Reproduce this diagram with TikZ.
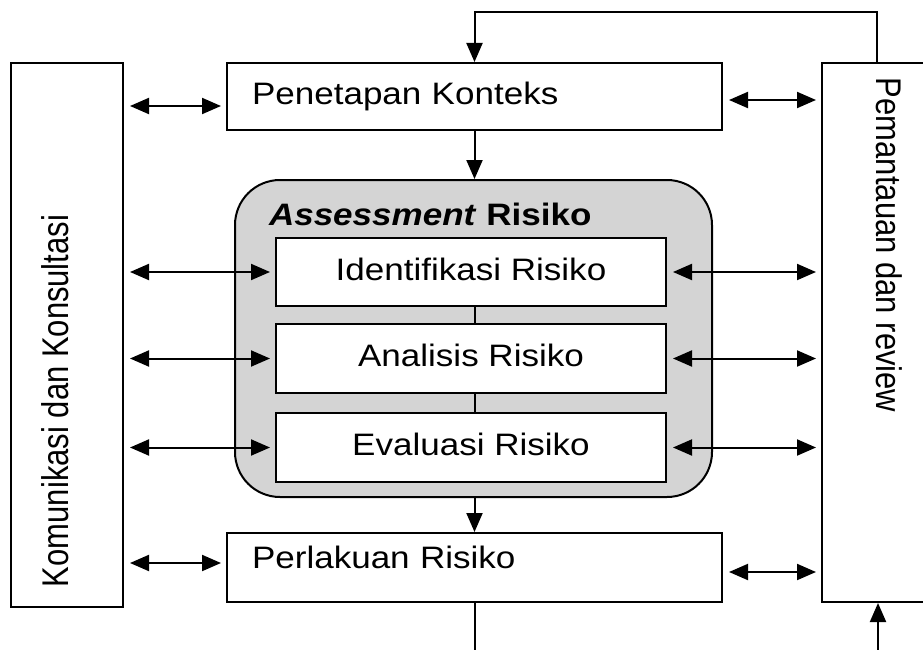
\documentclass[tikz,border=0pt]{standalone}
\usepackage{fontspec}
\setmainfont{Liberation Sans}
\newfontfamily\lebar[FakeStretch=1.13]{Liberation Sans}
\usetikzlibrary{arrows.meta}

\begin{document}
\begin{tikzpicture}[x=1pt, y=-1pt, line width=2pt,
    kotak/.style={draw, fill=white, rectangle, inner sep=0pt},
    isi/.style={font=\lebar\fontsize{31}{37}\selectfont, text height=22pt, text depth=6pt},
    tegak/.style={font=\fontsize{31}{37}\selectfont, inner sep=0pt},
    panah/.style={-{Triangle[length=19pt, width=16pt]}},
    duapanah/.style={{Triangle[length=19pt, width=16pt]}-{Triangle[length=19pt, width=16pt]}, shorten <=6pt, shorten >=5pt}]
    \useasboundingbox (0,0) rectangle (923,650);
    \clip (0,0) rectangle (923,650);
    \node[kotak, minimum width=112pt, minimum height=544pt](komunikasi) at (67,335){};
    \node[kotak, minimum width=120pt, minimum height=539pt](pemantauan) at (882,332.5){};
    \node[tegak, rotate=90, anchor=base west](tKomunikasi) at (68,588){\scalebox{1}[1.2]{Komunikasi dan Konsultasi}};
    \node[tegak, rotate=-90, anchor=base west](tPemantauan) at (876,77){\scalebox{1}[1.15]{Pemantauan dan review}};
    \node[kotak, isi, minimum height=67pt, text width=445pt, inner xsep=25pt, align=left](penetapan) at (474.5,96.5){Penetapan Konteks};
    \node[kotak, isi, minimum height=69pt, text width=445pt, inner xsep=25pt, align=left, text depth=20pt](perlakuan) at (474.5,567.5){Perlakuan Risiko};
    \node[draw, fill=black!17, rounded corners=45pt, minimum width=477pt, minimum height=317pt](assessment) at (473.5,338.5){};
    \node[tegak, font=\lebar\fontsize{31}{37}\selectfont\bfseries, anchor=base west](judul) at (268,225){\textit{Assessment} Risiko};
    \node[kotak, isi, minimum width=390pt, minimum height=68pt](identifikasi) at (471,272){Identifikasi Risiko};
    \node[kotak, isi, minimum width=390pt, minimum height=69pt](analisis) at (471,358.5){Analisis Risiko};
    \node[kotak, isi, minimum width=390pt, minimum height=69pt](evaluasi) at (471,447.5){Evaluasi Risiko};
    \coordinate (puncak) at (877,12);
    \coordinate (bawahKiri) at (475,650);
    \coordinate (bawahKanan) at (878,650);
    \draw (identifikasi.south -| penetapan.south) -- (analisis.north -| penetapan.south);
    \draw (analisis.south -| penetapan.south) -- (evaluasi.north -| penetapan.south);
    \draw[panah] (penetapan.south) -- (penetapan.south |- assessment.north);
    \draw[panah] (assessment.south -| perlakuan.north) -- (perlakuan.north);
    \draw[panah] (puncak |- pemantauan.north) -- (puncak) -| (penetapan.north);
    \draw (perlakuan.south) -- (perlakuan.south |- bawahKiri);
    \draw[panah] (bawahKanan) -- (bawahKanan |- pemantauan.south);
    \draw[duapanah] ([yshift=-9.5pt]penetapan.west -| komunikasi.east) -- ([yshift=-9.5pt]penetapan.west);
    \draw[duapanah] ([yshift=-3.5pt]penetapan.east) -- ([yshift=-3.5pt]penetapan.east -| pemantauan.west);
    \foreach \kotakNama in {identifikasi, analisis, evaluasi}{
        \draw[duapanah] (\kotakNama.west -| komunikasi.east) -- (\kotakNama.west);
        \draw[duapanah] (\kotakNama.east) -- (\kotakNama.east -| pemantauan.west);
    }
    \draw[duapanah] ([yshift=4.5pt]perlakuan.west -| komunikasi.east) -- ([yshift=4.5pt]perlakuan.west);
    \draw[duapanah] ([yshift=-4.5pt]perlakuan.east) -- ([yshift=-4.5pt]perlakuan.east -| pemantauan.west);
\end{tikzpicture}
\end{document}
